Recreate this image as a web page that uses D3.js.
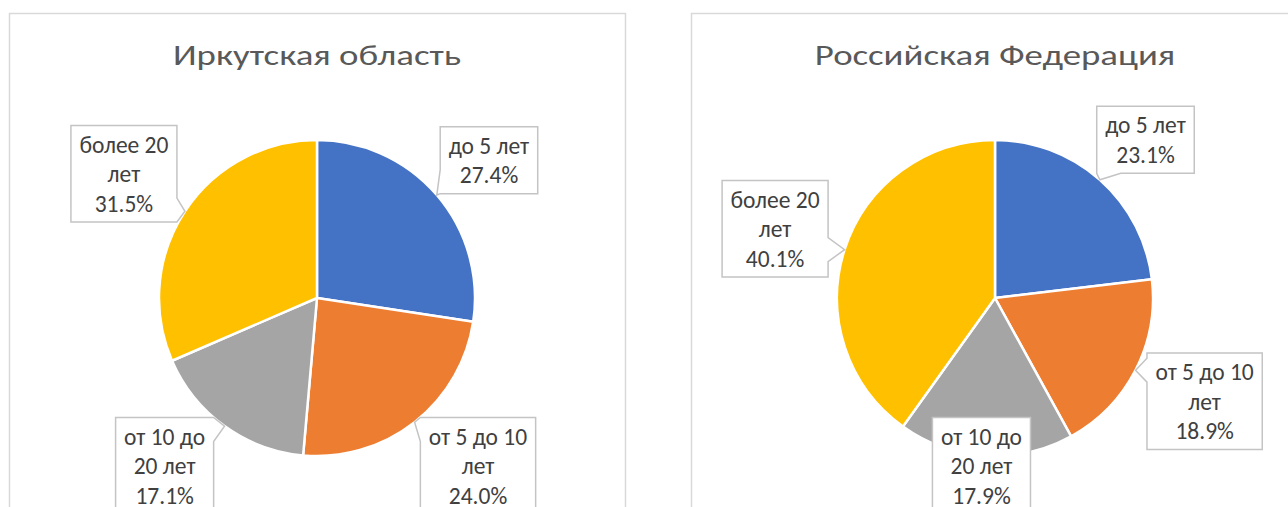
<!DOCTYPE html>
<html>
<head>
<meta charset="utf-8">
<script src="https://cdn.jsdelivr.net/npm/d3@7"></script>
<style>
  body { margin: 0; background: #fff; }
  svg { display: block; font-family: Carlito, Calibri, "Open Sans", sans-serif; }
</style>
</head>
<body>
<div id="chart"></div>
<script>
const categories = ["до 5 лет", "от 5 до 10 лет", "от 10 до 20 лет", "более 20 лет"];
const irkutskValues = [27.4, 24.0, 17.1, 31.5];
const russiaValues = [23.1, 18.9, 17.9, 40.1];
const chartTitles = ["Иркутская область", "Российская Федерация"];
const sliceColors = ["#4472C4", "#ED7D31", "#A5A5A5", "#FFC000"];

const W = 1288, H = 507;
const panels = [
  { x: 9, w: 616, values: irkutskValues, title: chartTitles[0] },
  { x: 691, w: 608, values: russiaValues, title: chartTitles[1] }
];
const panelTop = 13, panelBottom = 514;
const radius = 158, cy = 298;
const lineH = 29.5;
const titleStretch = 1.27;

let svg = d3.select("#chart").append("svg")
    .attr("width", W)
    .attr("height", H);

let pie = d3.pie().sort(null).value(d => d.value);
let arc = d3.arc().innerRadius(0).outerRadius(radius);
let fmt = d3.format(".1f");

// excel wraps label text at ~10 chars
let wrap = (txt) => {
    let lines = [];
    let cur = "";
    txt.split(" ").forEach(w => {
        if (cur === "") cur = w;
        else if ((cur + " " + w).length <= 10) cur += " " + w;
        else { lines.push(cur); cur = w; }
    });
    lines.push(cur);
    return lines;
};

let calloutPath = (x0, y0, x1, y1, tx, ty) => {
    let ex = Math.max(x0 - tx, tx - x1, 0);
    let ey = Math.max(y0 - ty, ty - y1, 0);
    let side = null;
    if (ex > 0 || ey > 0) {
        if (ex >= ey) side = tx < x0 ? "left" : "right";
        else side = ty < y0 ? "top" : "bottom";
    }
    const half = 12;
    let clamp = (v, a, b) => Math.max(a + half, Math.min(b - half, v));
    let p = [[x0, y0]];
    if (side === "top") {
        let m = clamp(tx, x0, x1);
        p.push([m - half, y0], [tx, ty], [m + half, y0]);
    }
    p.push([x1, y0]);
    if (side === "right") {
        let m = clamp(ty, y0, y1);
        p.push([x1, m - half], [tx, ty], [x1, m + half]);
    }
    p.push([x1, y1]);
    if (side === "bottom") {
        let m = clamp(tx, x0, x1);
        p.push([m + half, y1], [tx, ty], [m - half, y1]);
    }
    p.push([x0, y1]);
    if (side === "left") {
        let m = clamp(ty, y0, y1);
        p.push([x0, m + half], [tx, ty], [x0, m - half]);
    }
    return "M" + p.map(q => q.join(",")).join("L") + "Z";
};

panels.forEach(pn => {
    let cx = pn.x + pn.w / 2;
    let g = svg.append("g");

    g.append("rect")
        .attr("x", pn.x + 0.5)
        .attr("y", panelTop + 0.5)
        .attr("width", pn.w)
        .attr("height", panelBottom - panelTop + 20)
        .attr("fill", "#fff")
        .attr("stroke", "#d9d9d9")
        .attr("stroke-width", 1.5);

    let title = g.append("text")
        .attr("x", cx)
        .attr("y", 65)
        .attr("text-anchor", "middle")
        .attr("font-size", 29)
        .attr("fill", "#595959")
        .text(pn.title);
    // the original title is drawn wider than the font
    let natural = title.node().getComputedTextLength();
    title.attr("textLength", natural * titleStretch)
        .attr("lengthAdjust", "spacingAndGlyphs");

    let data = categories.map((c, i) => ({ cat: c, value: pn.values[i], color: sliceColors[i] }));
    let arcs = pie(data);

    let pg = g.append("g").attr("transform", `translate(${cx},${cy})`);
    pg.selectAll("path")
        .data(arcs)
        .join("path")
        .attr("d", arc)
        .attr("fill", d => d.data.color)
        .attr("stroke", "#fff")
        .attr("stroke-width", 2.5)
        .attr("stroke-linejoin", "round");

    // data labels (callouts)
    arcs.forEach(a => {
        let mid = (a.startAngle + a.endAngle) / 2;
        let ux = Math.sin(mid), uy = -Math.cos(mid);
        let lines = wrap(a.data.cat).concat([fmt(a.data.value) + "%"]);

        let lg = g.append("g");
        let box = lg.append("path")
            .attr("fill", "#fff")
            .attr("stroke", "#c4c4c4")
            .attr("stroke-width", 1.5);
        let txt = lg.append("text")
            .attr("font-size", 23.5)
            .attr("fill", "#404040")
            .attr("text-anchor", "middle");
        let spans = lines.map(l => txt.append("tspan").text(l));
        let tw = d3.max(spans, s => s.node().getComputedTextLength());

        let bw = tw + 17;
        let bh = lines.length * lineH + 8;
        let ax = cx + (radius + 20) * ux;
        let ay = cy + (radius + 20) * uy;
        let bx = ax + ux * bw / 2;
        let by = ay + uy * bh / 2;
        if (by + bh / 2 > panelBottom) by = panelBottom - bh / 2;

        // keep the box off the pie unless it sits right under it
        let x0 = bx - bw / 2, x1 = bx + bw / 2;
        let y0 = by - bh / 2, y1 = by + bh / 2;
        if (!(x0 < cx && x1 > cx)) {
            let dy = y0 > cy ? y0 - cy : (y1 < cy ? cy - y1 : 0);
            if (dy < radius) {
                let need = Math.sqrt(radius * radius - dy * dy);
                if (bx > cx && x0 - cx < need) bx = cx + need + bw / 2;
                if (bx < cx && cx - x1 < need) bx = cx - need - bw / 2;
            }
        }
        x0 = bx - bw / 2;

        spans.forEach((s, i) => s.attr("x", bx).attr("y", y0 + 27 + i * lineH));

        let tx = cx + radius * ux, ty = cy + radius * uy;
        box.attr("d", calloutPath(x0, y0, x0 + bw, y0 + bh, tx, ty));
    });
});
</script>
</body>
</html>
